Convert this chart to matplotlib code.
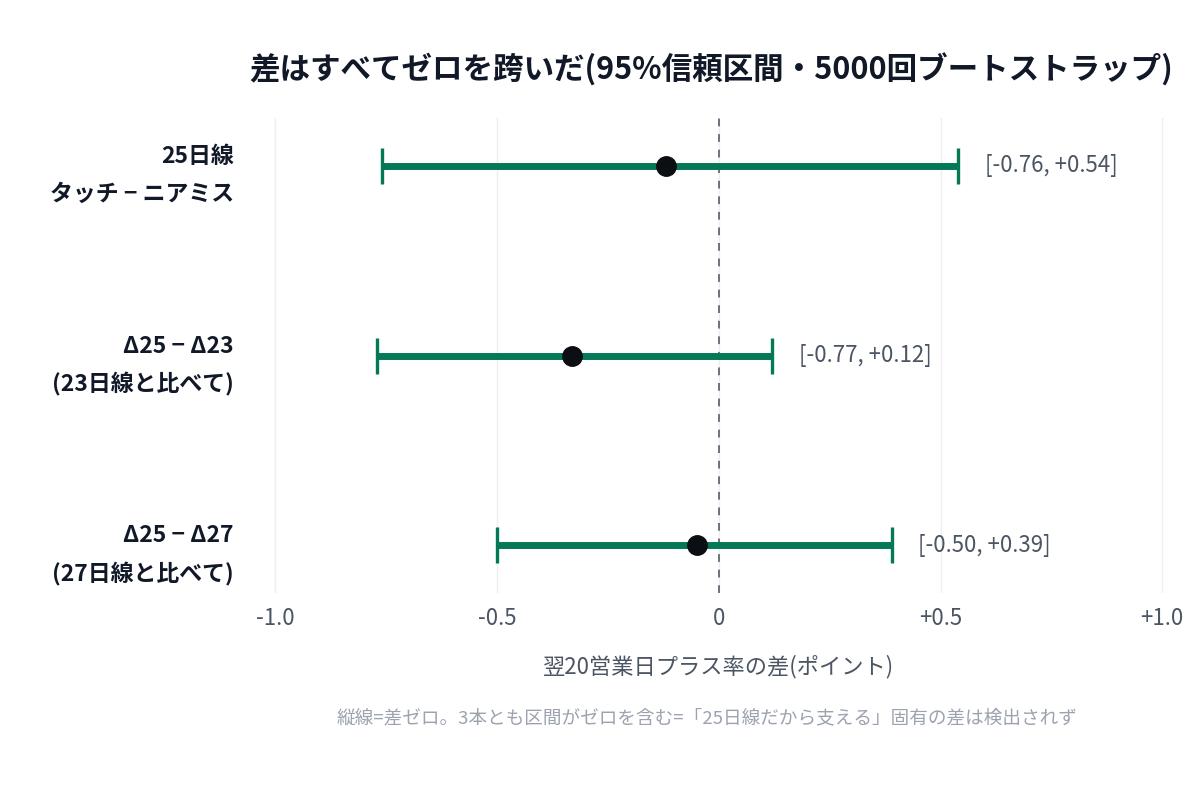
import matplotlib
matplotlib.use("Agg")
import matplotlib.pyplot as plt

plt.rcParams['font.family'] = ['Noto Sans CJK JP', 'DejaVu Sans']

# data
labels = ["25日線\nタッチ − ニアミス", "Δ25 − Δ23\n(23日線と比べて)", "Δ25 − Δ27\n(27日線と比べて)"]
diffs = [-0.12, -0.33, -0.05]
lows = [-0.76, -0.77, -0.50]
highs = [0.54, 0.12, 0.39]
xticks = [-1.0, -0.5, 0, 0.5, 1.0]
xtick_labels = ["-1.0", "-0.5", "0", "+0.5", "+1.0"]

green = "#047857"
dark = "#111827"
gray = "#4b5563"

fig = plt.figure(figsize=(12, 8), dpi=100)
ax = fig.add_axes([0.211, 0.259, 0.776, 0.593])

ys = list(range(len(labels)))
for y, d, lo, hi in zip(ys, diffs, lows, highs):
    ax.errorbar(d, y, xerr=[[d - lo], [hi - d]], fmt='none', ecolor=green,
                elinewidth=5, capsize=13, capthick=2.4, zorder=3)
    ax.plot(d, y, 'o', color="#0b0f14", markersize=14, markeredgecolor="#0b0f14",
            markeredgewidth=1, zorder=4)
    ax.text(hi + 0.06, y, f"[{lo:.2f}, {hi:+.2f}]", va='center', ha='left',
            fontsize=16, color=gray)

ax.axvline(0, color="#6b7280", linestyle=(0, (4, 4)), linewidth=1.4, zorder=2)

ax.set_xlim(-1.05, 1.05)
ax.set_ylim(2.25, -0.25)
ax.set_xticks(xticks)
ax.set_xticklabels(xtick_labels, fontsize=16, color=gray)
ax.set_yticks(ys)
ax.set_yticklabels(labels, fontsize=16.5, fontweight='bold', color=dark,
                   linespacing=1.8)
ax.tick_params(length=0, pad=14)
ax.tick_params(axis='x', pad=10)
ax.grid(axis='x', color="#eeeeee", linewidth=1)
ax.set_axisbelow(True)
for s in ax.spines.values():
    s.set_visible(False)

ax.set_xlabel("翌20営業日プラス率の差(ポイント)", fontsize=16, color=gray, labelpad=18)

fig.text(0.208, 0.912, "差はすべてゼロを跨いだ(95%信頼区間・5000回ブートストラップ)",
         fontsize=22, fontweight='bold', color=dark, ha='left', va='center')
fig.text(0.589, 0.102, "縦線=差ゼロ。3本とも区間がゼロを含む=「25日線だから支える」固有の差は検出されず",
         fontsize=13.4, color="#9ca3af", ha='center', va='center')

fig.savefig("out.png", dpi=100, facecolor='white')
